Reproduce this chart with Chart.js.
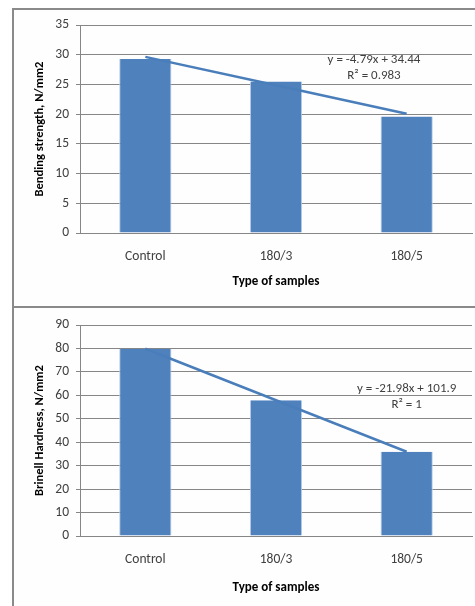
<!DOCTYPE html>
<html lang="en">
  <head>
    <meta charset="UTF-8" />
    <title>Bending strength and Brinell hardness</title>
    <script src="https://cdn.jsdelivr.net/npm/chart.js"></script>
    <style>
      body { margin: 0; background: #fff; }
      #wrap { position: relative; width: 475px; height: 606px; overflow: hidden; }
      .frame {
        position: absolute; left: 12px; width: 470px;
        border-left: 2px solid #8a8a8a; border-top: 2px solid #8a8a8a;
        background: #fefefe;
      }
      canvas { position: absolute; left: 14px; }
    </style>
  </head>
  <body>
    <div id="wrap">
      <div class="frame" style="top: 8px; height: 300px"></div>
      <div class="frame" style="top: 306px; height: 300px"></div>
      <canvas id="bendingChart" width="461" height="296" style="top: 10px"></canvas>
      <canvas id="brinellChart" width="461" height="296" style="top: 310px"></canvas>
    </div>

    <script>
      const categories = ["Control", "180/3", "180/5"];

      const bendingStrength = [29.3, 25.5, 19.6];
      const bendingTrend = [29.65, 24.86, 20.07];
      const bendingMax = 35;
      const bendingStep = 5;
      const bendingEquation = ["y = -4.79x + 34.44", "R\u00b2 = 0.983"];

      const brinellHardness = [79.9, 57.9, 36.0];
      const brinellTrend = [79.92, 57.94, 35.96];
      const brinellMax = 90;
      const brinellStep = 10;
      const brinellEquation = ["y = -21.98x + 101.9", "R\u00b2 = 1"];

      const FONT = "Calibri, Carlito, Lato, sans-serif";

      // draws the trendline equation next to the line
      const equationLabel = {
        id: "equationLabel",
        afterDatasetsDraw(chart, args, opts) {
          const { ctx, scales } = chart;
          const x = scales.x.getPixelForValue(opts.at[0]);
          const y = scales.y.getPixelForValue(opts.at[1]);
          ctx.save();
          ctx.font = "13px " + FONT;
          ctx.fillStyle = "#404040";
          ctx.textAlign = "center";
          ctx.textBaseline = "middle";
          opts.lines.forEach((line, i) => ctx.fillText(line, x, y + i * 16));
          ctx.restore();
        },
      };

      function makeChart(id, values, trend, max, step, yTitle, eq, eqAt, pad) {
        const ctx = document.getElementById(id).getContext("2d");
        return new Chart(ctx, {
          type: "bar",
          data: {
            labels: categories,
            datasets: [
              {
                type: "line",
                data: trend,
                borderColor: "#4a7ebb",
                borderWidth: 2.5,
                pointRadius: 0,
                order: 0,
              },
              {
                data: values,
                backgroundColor: "#4f81bd",
                borderColor: "#b9cde5",
                borderWidth: { left: 1, right: 1 },
                borderSkipped: false,
                categoryPercentage: 1,
                barPercentage: 0.4,
                order: 1,
              },
            ],
          },
          plugins: [equationLabel],
          options: {
            responsive: false,
            animation: false,
            layout: { padding: { top: pad.top, right: 3, left: 0, bottom: 0 } },
            plugins: {
              legend: { display: false },
              tooltip: { enabled: false },
              equationLabel: { lines: eq, at: eqAt },
            },
            scales: {
              x: {
                afterFit: (s) => { s.height = pad.xHeight; },
                grid: { display: false },
                border: { display: true, color: "#868686", width: 1 },
                ticks: { padding: 8, color: "#404040", font: { family: FONT, size: 13.5 } },
                title: {
                  display: true,
                  text: "Type of samples",
                  color: "#000",
                  font: { family: FONT, size: 13, weight: "bold" },
                  padding: { top: 0, bottom: pad.xTitle },
                },
              },
              y: {
                min: 0,
                max: max,
                afterFit: (s) => { s.width = 66; },
                ticks: {
                  stepSize: step,
                  padding: 7,
                  color: "#404040",
                  font: { family: FONT, size: 13.5 },
                },
                grid: { color: "#868686", lineWidth: 1, tickLength: 4 },
                border: { display: true, color: "#868686", width: 1 },
                title: {
                  display: true,
                  text: yTitle,
                  color: "#000",
                  font: { family: FONT, size: 12.5, weight: "bold" },
                  padding: { top: 18, bottom: 0 },
                },
              },
            },
          },
        });
      }

      makeChart("bendingChart", bendingStrength, bendingTrend, bendingMax, bendingStep,
        "Bending strength, N/mm2", bendingEquation, [1.75, 29.1],
        { top: 14, xHeight: 73, xTitle: 16 });

      makeChart("brinellChart", brinellHardness, brinellTrend, brinellMax, brinellStep,
        "Brinell Hardness, N/mm2", brinellEquation, [2.0, 63],
        { top: 13, xHeight: 70, xTitle: 10 });
    </script>
  </body>
</html>
